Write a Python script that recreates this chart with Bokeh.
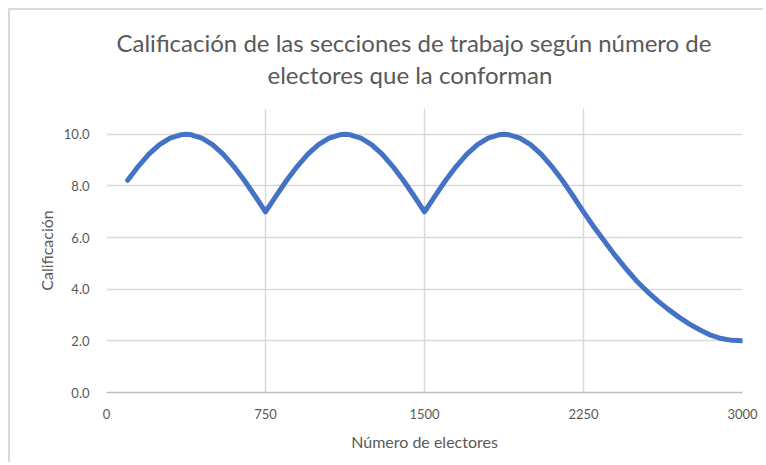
from bokeh.plotting import figure
from bokeh.embed import file_html
from bokeh.resources import INLINE
from bokeh.models import FixedTicker, NumeralTickFormatter, Title

electores = [100, 150, 200, 250, 300, 350, 375, 400, 450, 500, 550, 600, 650, 700, 750,
             800, 850, 900, 950, 1000, 1050, 1100, 1125, 1150, 1200, 1250, 1300, 1350, 1400, 1450, 1500,
             1550, 1600, 1650, 1700, 1750, 1800, 1850, 1875, 1900, 1950, 2000, 2050, 2100, 2150, 2200, 2250,
             2300, 2350, 2400, 2450, 2500, 2550, 2600, 2650, 2700, 2750, 2800, 2850, 2900, 2950, 3000]
calificacion = [8.22, 8.76, 9.23, 9.60, 9.85, 9.98, 10.0, 9.98, 9.85, 9.60, 9.23, 8.76, 8.22, 7.62, 7.0,
                7.62, 8.22, 8.76, 9.23, 9.60, 9.85, 9.98, 10.0, 9.98, 9.85, 9.60, 9.23, 8.76, 8.22, 7.62, 7.0,
                7.62, 8.22, 8.76, 9.23, 9.60, 9.85, 9.98, 10.0, 9.98, 9.85, 9.60, 9.23, 8.76, 8.22, 7.62, 7.0,
                6.40, 5.85, 5.30, 4.80, 4.32, 3.92, 3.55, 3.22, 2.92, 2.65, 2.42, 2.22, 2.09, 2.02, 2.0]

x_ticks = [0, 750, 1500, 2250, 3000]
y_ticks = [0, 2, 4, 6, 8, 10]

titulo_1 = "Calificación de las secciones de trabajo según número de"
titulo_2 = "electores que la conforman"
x_titulo = "Número de electores"
y_titulo = "Calificación"

FONT = "Lato"
TXT = "#595959"
GRID = "#D9D9D9"

p = figure(width=755, height=454, x_range=(0, 3000), y_range=(0, 11.0),
           output_backend="svg", toolbar_location=None, title=None,
           min_border_left=96, min_border_right=23, min_border_top=98, min_border_bottom=72)

p.styles = {"margin-left": "8px", "margin-top": "8px",
            "border-left": "2px solid #D9D9D9", "border-top": "2px solid #D9D9D9"}

for txt, so, off in ((titulo_2, 39, 161), (titulo_1, -37, 10)):
    t = Title(text=txt, align="left", offset=off, text_font=FONT, text_font_style="normal",
              text_font_size="24px", text_color=TXT, standoff=so)
    p.add_layout(t, "above")

p.outline_line_color = None
p.background_fill_color = "white"
p.border_fill_color = "white"

p.line(electores, calificacion, line_color="#4472C4", line_width=5,
       line_join="round", line_cap="round")

p.xaxis.ticker = FixedTicker(ticks=x_ticks)
p.yaxis.ticker = FixedTicker(ticks=y_ticks)
p.yaxis.formatter = NumeralTickFormatter(format="0.0")

for ax in (p.xaxis[0], p.yaxis[0]):
    ax.major_tick_line_color = None
    ax.minor_tick_line_color = None
    ax.major_label_text_font = FONT
    ax.major_label_text_font_size = "13px"
    ax.major_label_text_color = TXT
    ax.axis_label_text_font = FONT
    ax.axis_label_text_font_size = "16px"
    ax.axis_label_text_font_style = "normal"
    ax.axis_label_text_color = TXT

p.xaxis.axis_label = x_titulo
p.yaxis.axis_label = y_titulo
p.xaxis.axis_line_color = "#BFBFBF"
p.xaxis.axis_line_width = 1.5
p.yaxis.axis_line_color = None
p.xaxis.major_label_standoff = 10
p.yaxis.major_label_standoff = 11
p.xaxis.axis_label_standoff = 10
p.yaxis.axis_label_standoff = 5

p.xgrid.grid_line_color = GRID
p.ygrid.grid_line_color = GRID
p.xgrid.grid_line_width = 1.5
p.ygrid.grid_line_width = 1.5

open("out.html", "w").write(file_html(p, INLINE))
